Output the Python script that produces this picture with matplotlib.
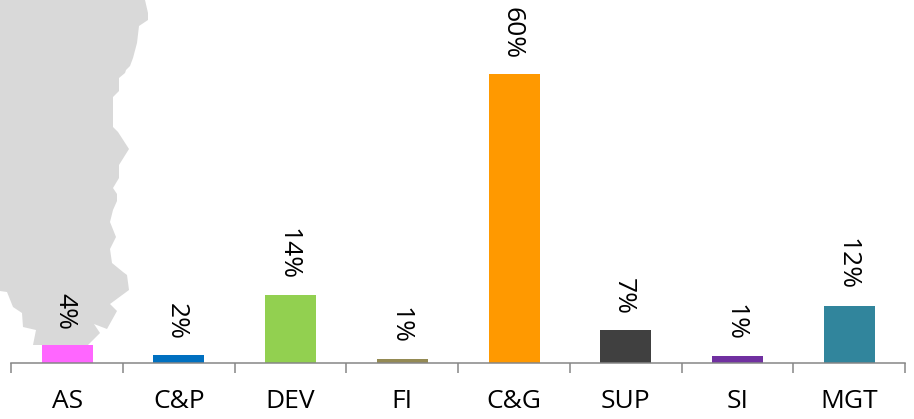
import matplotlib
matplotlib.use("Agg")
import matplotlib.pyplot as plt
from matplotlib.patches import Polygon

plt.rcParams['font.family'] = ['Open Sans', 'DejaVu Sans']

W, H = 914, 419

categories = ['AS', 'C&P', 'DEV', 'FI', 'C&G', 'SUP', 'SI', 'MGT']
values = [3.6, 1.6, 14.0, 0.7, 60.0, 6.8, 1.3, 11.8]
labels = ['4%', '2%', '14%', '1%', '60%', '7%', '1%', '12%']
colors = ['#FF66FF', '#0070C0', '#92D050', '#948A54', '#FF9900', '#404040', '#7030A0', '#31859C']

# outline of the grey map behind the chart, in image pixels
map_x = [0, 145, 148, 148, 139, 137, 133, 130, 126, 125, 119, 119, 113, 113, 118, 129, 119, 119,
         113, 117, 117, 113, 110, 116, 110, 112, 123, 127, 129, 110, 117, 107, 94, 100, 88,
         33, 36, 23, 22, 13, 7, 0]
map_y = [0, 0, 13, 20, 26, 43, 58, 66, 70, 73, 78, 91, 97, 127, 132, 149, 165, 178,
         188, 194, 201, 210, 222, 237, 249, 263, 272, 275, 290, 304, 311, 329, 324, 333, 345,
         345, 330, 327, 313, 307, 292, 291]

fig = plt.figure(figsize=(W / 100, H / 100), dpi=100)

# background layer for the map
bg = fig.add_axes([0, 0, 1, 1])
bg.set_xlim(0, W)
bg.set_ylim(H, 0)
bg.axis('off')
bg.add_patch(Polygon(list(zip(map_x, map_y)), closed=True, facecolor='#D9D9D9', edgecolor='none'))

# chart axes, x spans the 8 categories, top of the axes is the top of the image
left, right, base = 11.2, 905.2, 362.5
ax = fig.add_axes([left / W, (H - base) / H, (right - left) / W, base / H])
ax.patch.set_alpha(0)

positions = list(range(len(categories)))
ax.bar(positions, values, width=0.457, color=colors, linewidth=0)
ax.set_xlim(-0.5, len(categories) - 0.5)
ax.set_ylim(0, base / (288.5 / 60))

for x, v, lab in zip(positions, values, labels):
    ax.annotate(lab, (x - 0.02, v), xytext=(0, 11), textcoords='offset points', rotation=270,
                ha='center', va='bottom', fontsize=19, color='black')

for side in ['top', 'left', 'right']:
    ax.spines[side].set_visible(False)
ax.spines['bottom'].set_color('#868686')
ax.spines['bottom'].set_linewidth(1.1)

ax.set_yticks([])
ax.set_xticks([p - 0.5 for p in range(len(categories) + 1)])
ax.set_xticklabels([])
ax.set_xticks(positions, minor=True)
ax.set_xticklabels(categories, minor=True, fontsize=19, color='black')
ax.tick_params(axis='x', which='major', length=7.5, width=1.1, color='#868686')
ax.tick_params(axis='x', which='minor', length=0, pad=19)

fig.savefig('out.png', dpi=100)
